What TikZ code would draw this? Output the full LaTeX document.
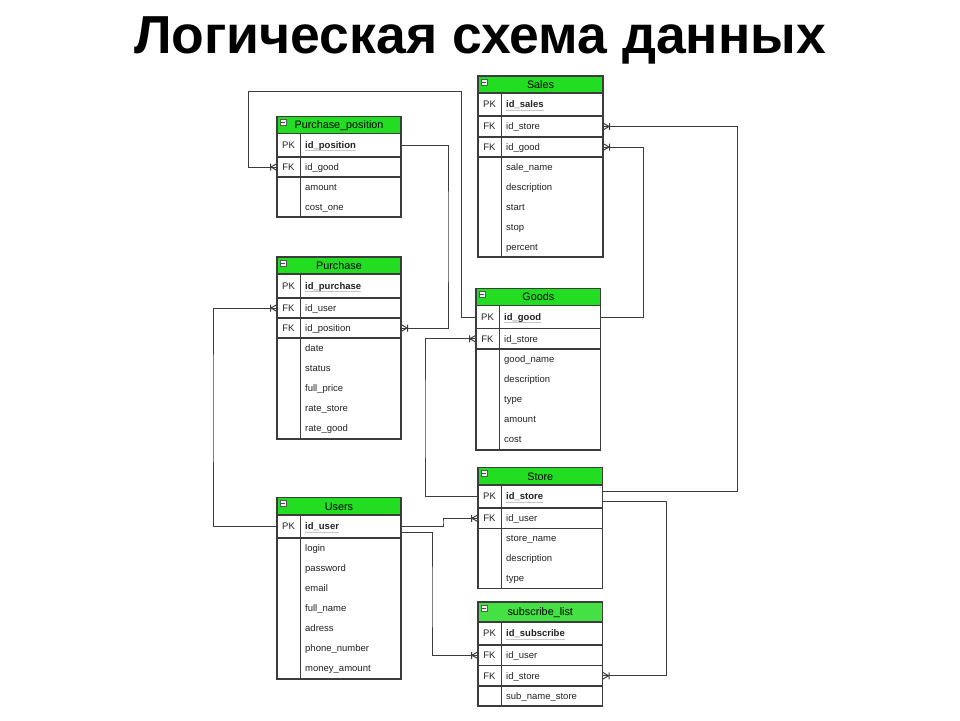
\documentclass[tikz,border=0pt]{standalone}
\usepackage{fontspec}
\setmainfont{Liberation Sans}
\usetikzlibrary{calc}
\definecolor{hgreen}{HTML}{22DD22}
\definecolor{hgreenb}{HTML}{44E044}
\definecolor{lc}{HTML}{3C3C3C}
\definecolor{tc}{HTML}{222222}
\tikzset{
  rowbox/.style={draw=lc, line width=1.1pt, inner sep=0pt, outer sep=0pt},
  hdrbox/.style={draw=lc, line width=1.1pt, inner sep=0pt, outer sep=0pt},
  rowline/.style={draw=lc, line width=1.1pt},
  keyt/.style={font=\fontsize{9.5}{11}\selectfont, text=tc, inner sep=0pt, anchor=base},
  fldt/.style={font=\fontsize{9.5}{11}\selectfont, text=tc, inner sep=0pt, anchor=base west},
  hdrt/.style={font=\fontsize{10.8}{13}\selectfont, text=black, inner sep=0pt, anchor=base},
  iconbox/.style={draw=gray!70!black, fill=gray!12, line width=0.5pt, minimum width=6.5pt, minimum height=6pt, inner sep=0pt},
  icondash/.style={draw=black!70, line width=0.8pt},
  ul/.style={draw=gray!45, line width=0.8pt},
  conn/.style={draw=lc, line width=1pt},
  crowfoot/.pic={\draw[conn] (-6,0) -- (0,-3.5) (-6,0) -- (0,3.5) (-6.5,-3.5) -- (-6.5,3.5);}
}
\newcommand\erhead[7]{%
  \node[hdrbox, fill=#7, minimum width={(#3-#2)*1pt}, minimum height={(#5-#4)*1pt}, anchor=north west] (#1) at (#2,#4) {};
  \node[hdrt] (#1-t) at ($(#1.center)+(0,3.9)$) {#6};
  \node[iconbox] (#1-i) at ($(#1.north west)+(6,6)$) {};
  \draw[icondash] ($(#1-i.west)+(1.3,0)$) -- ($(#1-i.east)+(-1.3,0)$);
}
\newcommand\erow[7]{%
  \node[rowbox, minimum width={(#3-#2)*1pt}, minimum height={(#5-#4)*1pt}, anchor=north west] (#1) at (#2,#4) {};
  \node[keyt] (#1-k) at ($(#1.west)+(11.5,3.4)$) {#6};
  \node[fldt] (#1-f) at ($(#1.west)+(28,3.4)$) {#7};
}
\newcommand\pkrow[6]{%
  \erow{#1}{#2}{#3}{#4}{#5}{PK}{\bfseries #6}
  \draw[ul] ($(#1-f.base west)+(0,2)$) -- ($(#1-f.base east)+(0,2)$);
}
\newcommand\attr[4]{%
  \node[fldt] (#1) at (#2+28,#3+3.4) {#4};
}
\newcommand\grp[4]{\draw[rowline] (#1,#3) rectangle (#2,#4);}
\newcommand\divl[3]{\draw[rowline] (#1+23.5,#2) -- (#1+23.5,#3);}

\begin{document}
\begin{tikzpicture}[x=1pt,y=-1pt]
\useasboundingbox (0,0) rectangle (960,720);
\fill[white] (0,0) rectangle (960,720);

\node[font=\fontsize{53.5}{60}\selectfont\bfseries, anchor=base, inner sep=0pt] (title) at (480,53.5) {Логическая схема данных};

% Purchase_position
\erhead{pp}{277}{401}{116.5}{133.5}{Purchase\_position}{hgreen}
\pkrow{pp-pk}{277}{401}{133.5}{157}{id\_position}
\erow{pp-fk}{277}{401}{157}{177}{FK}{id\_good}
\grp{277}{401}{177}{217}
\attr{pp-a1}{277}{187}{amount}
\attr{pp-a2}{277}{207}{cost\_one}
\divl{277}{133.5}{217}

% Sales
\erhead{sales}{478}{603}{76}{93}{Sales}{hgreen}
\pkrow{sales-pk}{478}{603}{93}{116}{id\_sales}
\erow{sales-fks}{478}{603}{116}{137}{FK}{id\_store}
\erow{sales-fkg}{478}{603}{137}{157}{FK}{id\_good}
\grp{478}{603}{157}{257}
\attr{sales-a1}{478}{167}{sale\_name}
\attr{sales-a2}{478}{187}{description}
\attr{sales-a3}{478}{207}{start}
\attr{sales-a4}{478}{227}{stop}
\attr{sales-a5}{478}{247}{percent}
\divl{478}{93}{257}

% Purchase
\erhead{pur}{277}{401}{257}{274}{Purchase}{hgreen}
\pkrow{pur-pk}{277}{401}{274}{298}{id\_purchase}
\erow{pur-fku}{277}{401}{298}{318}{FK}{id\_user}
\erow{pur-fkp}{277}{401}{318}{338}{FK}{id\_position}
\grp{277}{401}{338}{439}
\attr{pur-a1}{277}{348}{date}
\attr{pur-a2}{277}{368}{status}
\attr{pur-a3}{277}{388}{full\_price}
\attr{pur-a4}{277}{408}{rate\_store}
\attr{pur-a5}{277}{428}{rate\_good}
\divl{277}{274}{439}

% Goods
\erhead{goods}{476}{600.5}{288.5}{305.5}{Goods}{hgreen}
\pkrow{goods-pk}{476}{600.5}{305.5}{328.5}{id\_good}
\erow{goods-fk}{476}{600.5}{328.5}{349}{FK}{id\_store}
\grp{476}{600.5}{349}{450}
\attr{goods-a1}{476}{359}{good\_name}
\attr{goods-a2}{476}{379}{description}
\attr{goods-a3}{476}{399}{type}
\attr{goods-a4}{476}{419}{amount}
\attr{goods-a5}{476}{439}{cost}
\divl{476}{305.5}{450}

% Users
\erhead{users}{277}{401}{497.5}{515}{Users}{hgreen}
\pkrow{users-pk}{277}{401}{515}{538}{id\_user}
\grp{277}{401}{538}{679}
\attr{users-a1}{277}{548}{login}
\attr{users-a2}{277}{568}{password}
\attr{users-a3}{277}{588}{email}
\attr{users-a4}{277}{608}{full\_name}
\attr{users-a5}{277}{628}{adress}
\attr{users-a6}{277}{648}{phone\_number}
\attr{users-a7}{277}{668}{money\_amount}
\divl{277}{515}{679}

% Store
\erhead{store}{478}{602.5}{467.5}{485}{Store}{hgreen}
\pkrow{store-pk}{478}{602.5}{485}{508}{id\_store}
\erow{store-fk}{478}{602.5}{508}{528.5}{FK}{id\_user}
\grp{478}{602.5}{528.5}{588.5}
\attr{store-a1}{478}{538}{store\_name}
\attr{store-a2}{478}{558}{description}
\attr{store-a3}{478}{578}{type}
\divl{478}{485}{588.5}

% subscribe_list
\erhead{sub}{478}{602.5}{602}{622}{subscribe\_list}{hgreenb}
\pkrow{sub-pk}{478}{602.5}{622}{645}{id\_subscribe}
\erow{sub-fku}{478}{602.5}{645}{665.5}{FK}{id\_user}
\erow{sub-fks}{478}{602.5}{665.5}{686}{FK}{id\_store}
\grp{478}{602.5}{686}{706}
\attr{sub-a1}{478}{696}{sub\_name\_store}
\divl{478}{622}{706}

% waypoints
\coordinate (a1) at (461,91);
\coordinate (a2) at (248.5,91);
\coordinate (b1) at (448,236);
\coordinate (c1) at (213,400);
\coordinate (d1) at (425,420);
\coordinate (e1) at (737,300);
\coordinate (f1) at (643,230);
\coordinate (g1) at (443,522);
\coordinate (h1) at (432,600);
\coordinate (i1) at (666.5,600);

% connectors
\draw[conn] (goods-pk.west) -| (a1) -- (a2) |- (pp-fk.west);
\draw[conn] (pp-pk.east) -| (b1) |- (pur-fkp.east);
\draw[conn] (users-pk.west) -| (c1) |- (pur-fku.west);
\draw[conn] (store-pk.west) -| (d1) |- (goods-fk.west);
\draw[conn] ([yshift=5.5pt]store-pk.east) -| (e1) |- (sales-fks.east);
\draw[conn] (goods-pk.east) -| (f1) |- (sales-fkg.east);
\draw[conn] (users-pk.east) -| (g1) |- (store-fk.west);
\draw[conn] ([yshift=-6pt]users-pk.east) -| (h1) |- (sub-fku.west);
\draw[conn] ([yshift=-5pt]store-pk.east) -| (i1) |- (sub-fks.east);

% crow's feet
\pic at (pp-fk.west) {crowfoot};
\pic[rotate=180] at (pur-fkp.east) {crowfoot};
\pic at (pur-fku.west) {crowfoot};
\pic at (goods-fk.west) {crowfoot};
\pic[rotate=180] at (sales-fks.east) {crowfoot};
\pic[rotate=180] at (sales-fkg.east) {crowfoot};
\pic at (store-fk.west) {crowfoot};
\pic at (sub-fku.west) {crowfoot};
\pic[rotate=180] at (sub-fks.east) {crowfoot};
\end{tikzpicture}
\end{document}
